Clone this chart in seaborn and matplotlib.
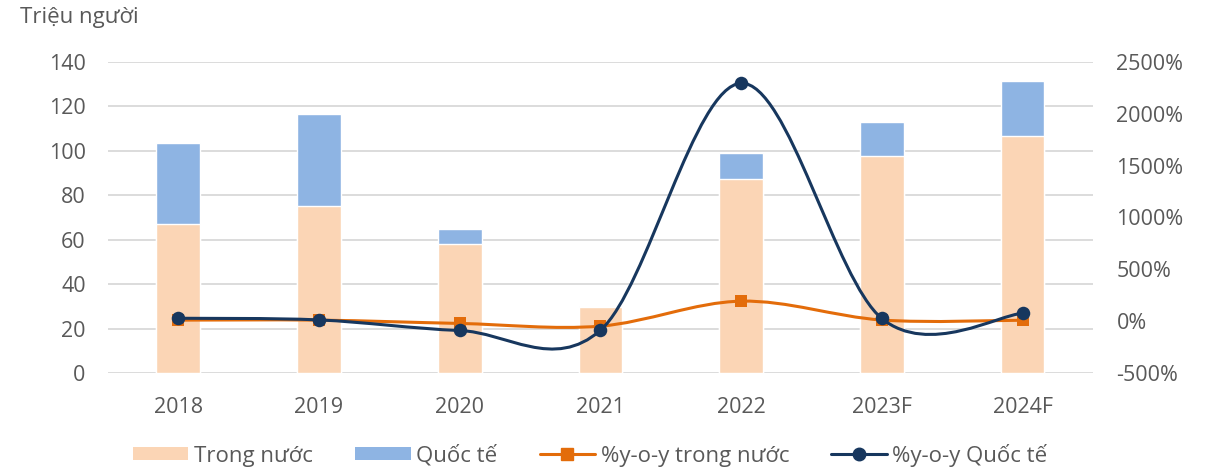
import numpy as np
import matplotlib.pyplot as plt
import seaborn as sns
from matplotlib.path import Path
from matplotlib.patches import PathPatch, Patch
from matplotlib.lines import Line2D

years = ['2018', '2019', '2020', '2021', '2022', '2023F', '2024F']
trong_nuoc = [67, 75, 58, 29.5, 87.5, 97.5, 106.5]
quoc_te = [36.5, 41.5, 7, 0.5, 11.5, 15.5, 25]
yoy_trong_nuoc = [10, 10, -22, -48, 193, 11, 9]
yoy_quoc_te = [28, 12, -90, -88, 2295, 26, 75]

c_dom = '#FBD5B5'
c_int = '#8EB4E3'
c_dom_line = '#E36C0A'
c_int_line = '#17375E'
c_text = '#595959'
c_grid = '#D9D9D9'

sns.set_style('white')
plt.rcParams['font.family'] = ['Open Sans', 'DejaVu Sans']


def smooth_path(x, y):
    # excel style smoothed line (catmull-rom -> bezier)
    pts = np.column_stack([x, y]).astype(float)
    n = len(pts)
    verts = [pts[0]]
    codes = [Path.MOVETO]
    for i in range(n - 1):
        p0 = pts[max(i - 1, 0)]
        p1 = pts[i]
        p2 = pts[i + 1]
        p3 = pts[min(i + 2, n - 1)]
        verts += [p1 + (p2 - p0) / 6, p2 - (p3 - p1) / 6, p2]
        codes += [Path.CURVE4] * 3
    return Path(verts, codes)


fig = plt.figure(figsize=(12.17, 4.69), dpi=100)
ax = fig.add_axes([0.0887, 0.2047, 0.8093, 0.6631])

totals = np.array(trong_nuoc) + np.array(quoc_te)
sns.barplot(x=years, y=totals, color=c_int, width=0.31, saturation=1, errorbar=None, ax=ax, zorder=2)
sns.barplot(x=years, y=trong_nuoc, color=c_dom, width=0.31, saturation=1, errorbar=None, ax=ax, zorder=2)

ax.set_ylim(0, 140)
ax.set_yticks(range(0, 141, 20))
ax.set_xlim(-0.5, 6.5)
ax.grid(axis='y', color=c_grid, lw=1.3, zorder=0)
ax.set_axisbelow(True)
ax.set_xlabel('')
ax.set_ylabel('')
for s in ax.spines.values():
    s.set_visible(False)
ax.tick_params(axis='both', length=0, labelsize=15.5, colors=c_text)
ax.tick_params(axis='x', pad=17)
ax.tick_params(axis='y', pad=16)

ax2 = ax.twinx()
xs = np.arange(len(years))
ax2.add_patch(PathPatch(smooth_path(xs, yoy_trong_nuoc), fill=False, edgecolor=c_dom_line, lw=2.2, zorder=3))
sns.scatterplot(x=xs, y=yoy_trong_nuoc, marker='s', s=80, color=c_dom_line, linewidth=0, ax=ax2, zorder=4)
ax2.add_patch(PathPatch(smooth_path(xs, yoy_quoc_te), fill=False, edgecolor=c_int_line, lw=2.2, zorder=5))
sns.scatterplot(x=xs, y=yoy_quoc_te, marker='o', s=95, color=c_int_line, linewidth=0, ax=ax2, zorder=6)

ax2.set_ylim(-500, 2500)
ax2.set_yticks(range(-500, 2501, 500))
ax2.set_yticklabels([f'{v}%' for v in range(-500, 2501, 500)])
ax2.set_xlim(-0.5, 6.5)
for s in ax2.spines.values():
    s.set_visible(False)
ax2.tick_params(axis='y', length=0, labelsize=15.5, colors=c_text, pad=17)

fig.text(20 / 1217, 1 - 18 / 469, 'Triệu người', fontsize=16, color=c_text, va='center', ha='left')

handles = [
    Patch(facecolor=c_dom, edgecolor='none'),
    Patch(facecolor=c_int, edgecolor='none'),
    Line2D([], [], color=c_dom_line, lw=2.2, marker='s', markersize=9),
    Line2D([], [], color=c_int_line, lw=2.2, marker='o', markersize=9),
]
labels = ['Trong nước', 'Quốc tế', '%y-o-y trong nước', '%y-o-y Quốc tế']
leg = fig.legend(handles, labels, loc='center', bbox_to_anchor=(0.485, 1 - 455 / 469), ncol=4,
                 frameon=False, fontsize=16, handlelength=2.5, handleheight=0.5,
                 columnspacing=1.9, handletextpad=0.25)
for t in leg.get_texts():
    t.set_color(c_text)

fig.savefig('out.png', dpi=100)
